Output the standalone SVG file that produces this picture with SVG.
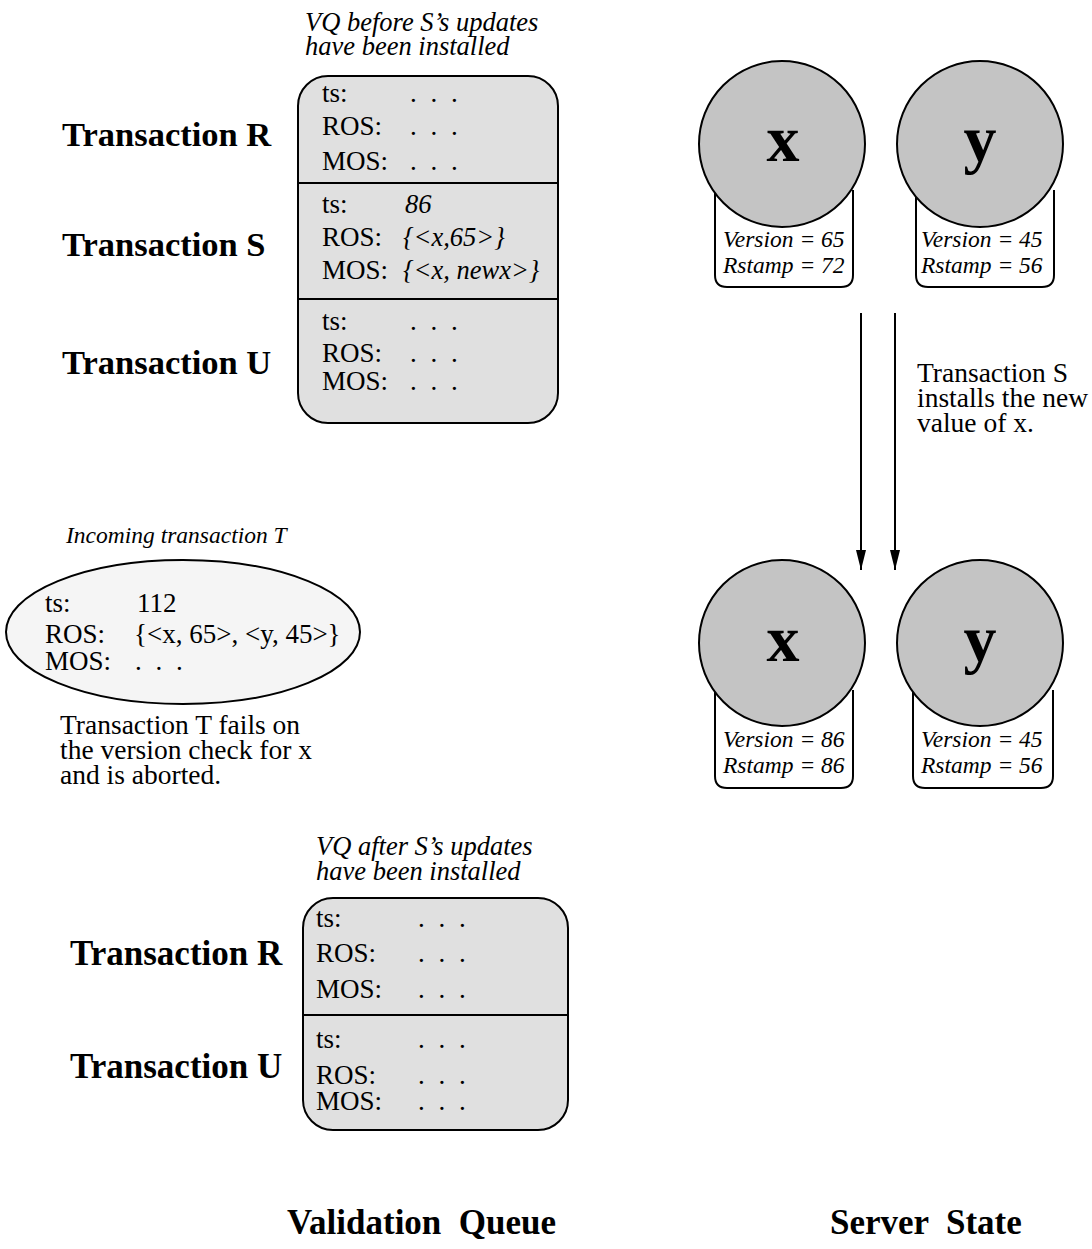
<svg xmlns="http://www.w3.org/2000/svg" width="1092" height="1249" viewBox="0 0 1092 1249">
<style>
text{font-family:"Liberation Serif","Times New Roman",serif;fill:#000}
.lbl{font-size:34.5px;font-weight:bold}
.cap{font-size:35px;font-weight:bold}
.f{font-size:27px}
.note{font-size:27.5px}
.it{font-size:26.5px;font-style:italic}
.hd{font-size:26.5px;font-style:italic}
.tag{font-size:23.5px;font-style:italic}
.big{font-size:66px;font-weight:bold;text-anchor:middle}
.dots{font-size:27px;word-spacing:7px}
.box{fill:#e0e0e0;stroke:#000;stroke-width:2}
.circ{fill:#c4c4c4;stroke:#000;stroke-width:2}
.tbox{fill:#fff;stroke:#000;stroke-width:2}
.ln{stroke:#000;stroke-width:2;fill:none}
</style>
<defs>
<marker id="ah" markerWidth="20" markerHeight="10" refX="20" refY="5" orient="auto" markerUnits="userSpaceOnUse" viewBox="0 0 20 10">
<path d="M0,0 L20,5 L0,10 Z" fill="#000"/>
</marker>
</defs>

<g id="vq-before">
<text class="hd" x="305" y="31">VQ before S’s updates</text>
<text class="hd" x="305" y="55">have been installed</text>
<rect class="box" x="298" y="76" width="260" height="347" rx="30" ry="30"/>
<line class="ln" x1="298" y1="183" x2="558" y2="183"/>
<line class="ln" x1="298" y1="299" x2="558" y2="299"/>
<text class="f" x="322" y="102">ts:</text><text class="dots" x="410" y="102">. . .</text>
<text class="f" x="322" y="135">ROS:</text><text class="dots" x="410" y="135">. . .</text>
<text class="f" x="322" y="170">MOS:</text><text class="dots" x="410" y="170">. . .</text>
<text class="f" x="322" y="213">ts:</text><text class="it" x="405" y="213">86</text>
<text class="f" x="322" y="246">ROS:</text><text class="it" x="403" y="246">{&lt;x,65&gt;}</text>
<text class="f" x="322" y="279">MOS:</text><text class="it" x="403" y="279">{&lt;x, newx&gt;}</text>
<text class="f" x="322" y="330">ts:</text><text class="dots" x="410" y="330">. . .</text>
<text class="f" x="322" y="362">ROS:</text><text class="dots" x="410" y="362">. . .</text>
<text class="f" x="322" y="390">MOS:</text><text class="dots" x="410" y="390">. . .</text>
</g>
<g id="labels-before">
<text class="lbl" x="62" y="146">Transaction R</text>
<text class="lbl" x="62" y="256">Transaction S</text>
<text class="lbl" x="62" y="374">Transaction U</text>
</g>

<g id="x-before">
<path class="tbox" d="M715,190 V275 Q715,287 727,287 H841 Q853,287 853,275 V190"/>
<circle class="circ" cx="782" cy="144" r="83"/>
<text class="big" x="783" y="161">x</text>
<text class="tag" x="723" y="247">Version = 65</text>
<text class="tag" x="723" y="273">Rstamp = 72</text>
</g>
<g id="y-before">
<path class="tbox" d="M916,190 V275 Q916,287 928,287 H1042 Q1054,287 1054,275 V190"/>
<circle class="circ" cx="980" cy="144" r="83"/>
<text class="big" x="980" y="161">y</text>
<text class="tag" x="921" y="247">Version = 45</text>
<text class="tag" x="921" y="273">Rstamp = 56</text>
</g>

<g id="connectors">
<line class="ln" x1="861" y1="313" x2="861" y2="570" marker-end="url(#ah)"/>
<line class="ln" x1="895" y1="313" x2="895" y2="570" marker-end="url(#ah)"/>
</g>
<g id="install-note">
<text class="note" x="917" y="382">Transaction S</text>
<text class="note" x="917" y="407">installs the new</text>
<text class="note" x="917" y="432">value of x.</text>
</g>

<g id="x-after">
<path class="tbox" d="M715,690 V776 Q715,788 727,788 H841 Q853,788 853,776 V690"/>
<circle class="circ" cx="782" cy="643" r="83"/>
<text class="big" x="783" y="661">x</text>
<text class="tag" x="723" y="747">Version = 86</text>
<text class="tag" x="723" y="773">Rstamp = 86</text>
</g>
<g id="y-after">
<path class="tbox" d="M913,690 V776 Q913,788 925,788 H1041 Q1053,788 1053,776 V690"/>
<circle class="circ" cx="980" cy="643" r="83"/>
<text class="big" x="980" y="661">y</text>
<text class="tag" x="921" y="747">Version = 45</text>
<text class="tag" x="921" y="773">Rstamp = 56</text>
</g>

<g id="incoming-T">
<text class="tag" x="66" y="543">Incoming transaction T</text>
<ellipse cx="183" cy="632" rx="177" ry="72" fill="#f5f5f5" stroke="#000" stroke-width="2"/>
<text class="f" x="45" y="612">ts:</text><text class="f" x="137" y="612">112</text>
<text class="f" x="45" y="643">ROS:</text><text class="f" x="134" y="643">{&lt;x, 65&gt;, &lt;y, 45&gt;}</text>
<text class="f" x="45" y="670">MOS:</text><text class="dots" x="135" y="670">. . .</text>
</g>
<g id="abort-note">
<text class="note" x="60" y="734">Transaction T fails on</text>
<text class="note" x="60" y="759">the version check for x</text>
<text class="note" x="60" y="784">and is aborted.</text>
</g>

<g id="vq-after">
<text class="hd" x="316" y="855">VQ after S’s updates</text>
<text class="hd" x="316" y="880">have been installed</text>
<rect class="box" x="303" y="898" width="265" height="232" rx="30" ry="30"/>
<line class="ln" x1="303" y1="1015" x2="568" y2="1015"/>
<text class="f" x="316" y="927">ts:</text><text class="dots" x="418" y="927">. . .</text>
<text class="f" x="316" y="962">ROS:</text><text class="dots" x="418" y="962">. . .</text>
<text class="f" x="316" y="998">MOS:</text><text class="dots" x="418" y="998">. . .</text>
<text class="f" x="316" y="1048">ts:</text><text class="dots" x="418" y="1048">. . .</text>
<text class="f" x="316" y="1084">ROS:</text><text class="dots" x="418" y="1084">. . .</text>
<text class="f" x="316" y="1110">MOS:</text><text class="dots" x="418" y="1110">. . .</text>
</g>
<g id="labels-after">
<text class="lbl" x="70" y="965" style="font-size:35px">Transaction R</text>
<text class="lbl" x="70" y="1078" style="font-size:35px">Transaction U</text>
</g>

<g id="captions">
<text class="cap" x="287" y="1234" xml:space="preserve">Validation  Queue</text>
<text class="cap" x="830" y="1234" xml:space="preserve">Server  State</text>
</g>
</svg>
